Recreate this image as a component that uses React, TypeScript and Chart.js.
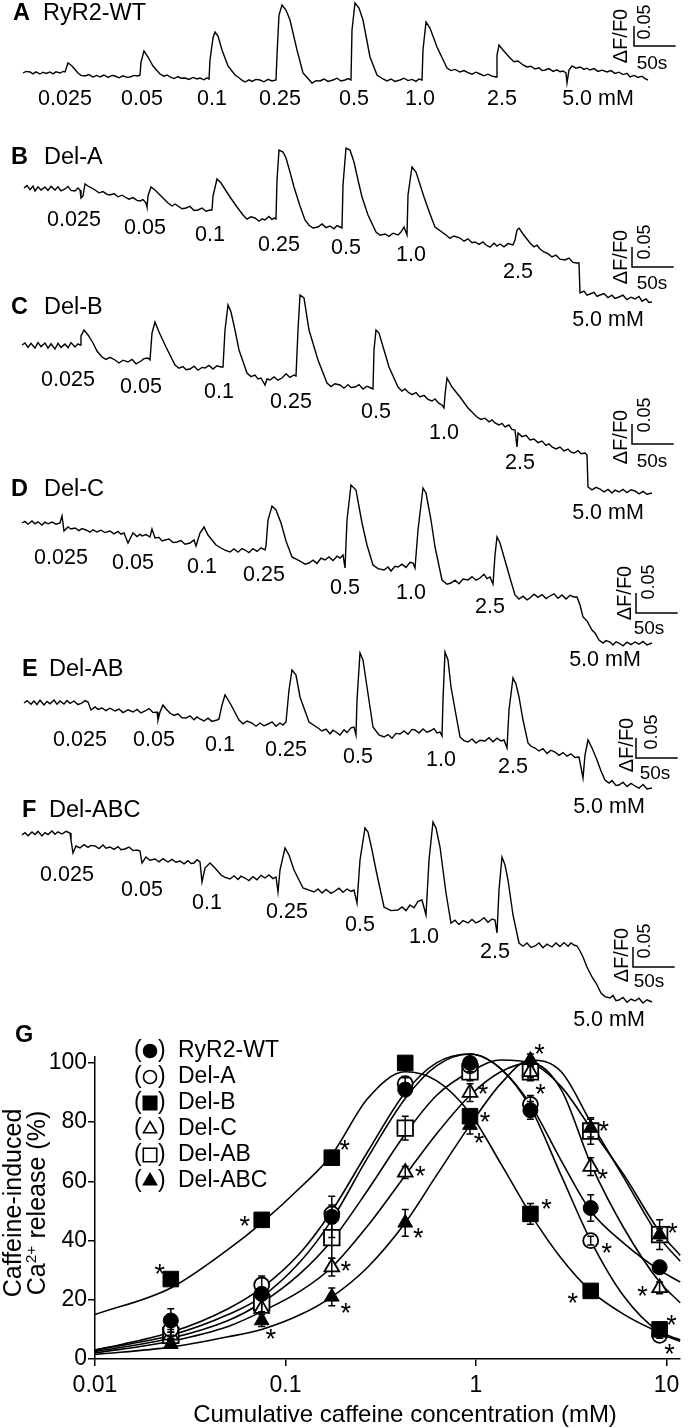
import React, { useEffect, useRef } from "react";
import { Chart, registerables } from "chart.js";
import { drawPoint } from "chart.js/helpers";

Chart.register(...registerables);

const FONT = '"Liberation Sans", Arial, Helvetica, sans-serif';

// ---------- Panels A–F: fluorescence traces ----------
const FRAME_S = 1.2; // seconds per recorded frame
const SCALE_BAR_S = 50;
const SCALE_BAR_DF = 0.05;
const CONC_LABELS = ["0.025", "0.05", "0.1", "0.25", "0.5", "1.0", "2.5", "5.0 mM"];

// [frame, ΔF/F0]
const TRACE_A = [
  [0, 0], [3, 0.004], [7, 0.0025], [10, -0.002], [13, 0.003], [17, -0.0025], [20, 0.002], [23, -0.001], [27, 0.0025],
  [30, -0.002], [33, 0.003], [37, 0], [40, 0.004], [42, 0.0025], [45, 0.025], [49, 0.0175], [55, 0], [58, -0.006],
  [62, -0.0075], [66, -0.004], [70, -0.01], [74, -0.006], [77, -0.01], [81, -0.005], [85, -0.011], [89, -0.006],
  [92, -0.0075], [96, -0.012], [100, -0.007], [104, -0.011], [107, -0.01], [111, -0.006], [115, -0.0075], [117, -0.005],
  [118, 0.0275], [121, 0.055], [125, 0.04], [130, 0.0175], [137, -0.0025], [141, -0.008], [144, -0.005], [147, -0.01],
  [151, -0.014], [155, -0.009], [158, -0.013], [162, -0.0125], [166, -0.016], [170, -0.011], [174, -0.015], [177, -0.0125],
  [181, -0.017], [184, -0.012], [186, -0.015], [187, 0.0325], [190, 0.0875], [192, 0.1025], [195, 0.0925], [199, 0.0575],
  [205, 0.0175], [212, -0.005], [216, -0.012], [219, -0.018], [222, -0.0225], [226, -0.017], [229, -0.021], [233, -0.016],
  [237, -0.0175], [241, -0.022], [245, -0.016], [249, -0.02], [253, -0.0175], [254, 0.045], [256, 0.145], [259, 0.17],
  [263, 0.1575], [267, 0.1325], [274, 0.0575], [280, 0], [289, -0.025], [293, -0.019], [297, -0.02], [301, -0.015],
  [305, -0.021], [310, -0.0175], [314, -0.013], [318, -0.02], [322, -0.0175], [325, -0.014], [328, -0.0175], [329, 0.1075],
  [332, 0.175], [336, 0.1625], [340, 0.1325], [347, 0.04], [354, -0.005], [360, -0.015], [364, -0.02], [368, -0.015],
  [372, -0.021], [377, -0.0175], [381, -0.013], [385, -0.019], [389, -0.016], [393, -0.021], [396, -0.015], [399, -0.0175],
  [400, 0.0575], [403, 0.1275], [407, 0.1125], [414, 0.065], [424, 0.0125], [428, 0.006], [432, 0.009], [437, 0.0025],
  [441, 0.006], [445, 0.001], [449, -0.003], [453, 0.002], [457, -0.0025], [461, -0.007], [465, -0.003], [469, -0.008],
  [473, -0.01], [474, 0.045], [476, 0.07], [480, 0.0575], [487, 0.0375], [491, 0.028], [495, 0.03], [500, 0.02],
  [504, 0.015], [508, 0.017], [512, 0.01], [516, 0.013], [519, 0.006], [522, 0.0075], [526, 0.011], [530, 0.004],
  [534, 0.008], [537, 0.003], [540, 0.005], [543, 0], [544, -0.025], [546, 0.0075], [549, 0.0175], [553, 0.012],
  [557, 0.015], [561, 0.009], [564, 0.012], [567, 0.0075], [571, 0.011], [575, 0.004], [579, 0.007], [584, 0.0025],
  [588, 0.006], [592, -0.001], [596, 0.002], [600, -0.004], [604, -0.001], [607, -0.01], [611, -0.006], [615, -0.011],
  [619, -0.008], [622, -0.014], [625, -0.0175],
];
const TRACE_B = [
  [1, 0], [4, 0.006], [7, -0.004], [10, 0.005], [12, -0.0075], [15, 0.003], [18, -0.005], [22, 0.0025], [25, -0.006],
  [28, 0.004], [32, -0.005], [35, 0.003], [38, -0.007], [42, -0.0025], [45, 0.004], [48, -0.006], [52, -0.0075], [55, 0],
  [57, -0.005], [58, -0.025], [60, -0.02], [62, 0.01], [65, 0.005], [68, 0.001], [72, -0.005], [76, -0.012], [80, -0.009],
  [84, -0.016], [87, -0.0175], [91, -0.014], [95, -0.022], [99, -0.018], [102, -0.0225], [106, -0.028], [110, -0.024],
  [114, -0.031], [117, -0.0325], [120, -0.029], [123, -0.0375], [124, -0.0475], [125, -0.02], [128, 0.0025], [132, -0.005],
  [137, -0.0175], [145, -0.0375], [149, -0.045], [152, -0.04], [155, -0.045], [159, -0.052], [163, -0.05], [167, -0.046],
  [171, -0.056], [175, -0.055], [179, -0.05], [183, -0.058], [187, -0.055], [189, -0.055], [190, -0.02], [194, 0.0225],
  [198, 0.0125], [207, -0.0225], [214, -0.0475], [220, -0.0675], [224, -0.078], [228, -0.072], [232, -0.075], [236, -0.083],
  [239, -0.077], [242, -0.08], [246, -0.071], [249, -0.079], [251, -0.075], [253, -0.0775], [254, 0.02], [256, 0.095],
  [260, 0.09], [263, 0.075], [267, 0.04], [271, 0.0025], [277, -0.045], [282, -0.08], [286, -0.093], [290, -0.1],
  [295, -0.0975], [299, -0.09], [303, -0.099], [307, -0.095], [311, -0.102], [314, -0.094], [317, -0.0975], [319, -0.1],
  [320, 0.0075], [323, 0.1], [327, 0.095], [331, 0.065], [335, 0.02], [339, -0.0225], [345, -0.0675], [353, -0.11],
  [357, -0.118], [362, -0.115], [366, -0.121], [370, -0.113], [375, -0.1175], [378, -0.11], [381, -0.0975], [384, -0.1175],
  [385, -0.0175], [389, 0.0525], [393, 0.04], [401, -0.0225], [407, -0.065], [412, -0.0975], [423, -0.1175], [427, -0.126],
  [431, -0.12], [437, -0.125], [441, -0.133], [445, -0.127], [449, -0.137], [452, -0.135], [456, -0.141], [460, -0.135],
  [463, -0.1425], [467, -0.148], [471, -0.138], [474, -0.145], [477, -0.14], [481, -0.147], [485, -0.139], [490, -0.1425],
  [492, -0.13], [494, -0.105], [496, -0.1], [500, -0.115], [507, -0.1375], [511, -0.147], [514, -0.143], [517, -0.1525],
  [521, -0.16], [525, -0.164], [529, -0.1725], [533, -0.168], [537, -0.178], [542, -0.18], [546, -0.175], [550, -0.186],
  [554, -0.1875], [556, -0.1875], [557, -0.2625], [561, -0.258], [564, -0.268], [567, -0.265], [571, -0.261], [574, -0.271],
  [577, -0.2675], [581, -0.264], [585, -0.274], [589, -0.268], [592, -0.276], [596, -0.2725], [600, -0.268], [604, -0.279],
  [608, -0.273], [612, -0.2775], [616, -0.271], [619, -0.283], [623, -0.277], [626, -0.286], [629, -0.285],
];
const TRACE_C = [
  [-1, 0], [2, 0.005], [5, -0.006], [8, 0.004], [12, -0.0075], [15, 0.006], [18, -0.004], [22, 0.005], [25, -0.008],
  [28, 0.003], [32, -0.01], [35, 0.004], [38, -0.006], [42, 0.0025], [45, -0.007], [48, 0.006], [52, -0.005], [55, 0.003],
  [57, 0], [58, 0.0225], [61, 0.0375], [65, 0.025], [70, 0.005], [74, -0.015], [79, -0.03], [83, -0.036], [87, -0.031],
  [92, -0.0375], [96, -0.045], [100, -0.038], [105, -0.0425], [109, -0.036], [113, -0.047], [118, -0.04], [121, -0.034],
  [125, -0.0325], [127, -0.0375], [129, 0.03], [132, 0.0575], [136, 0.0325], [143, -0.005], [152, -0.05], [156, -0.058],
  [160, -0.054], [163, -0.062], [167, -0.06], [171, -0.053], [175, -0.063], [179, -0.056], [182, -0.0575], [186, -0.051],
  [190, -0.06], [194, -0.052], [198, -0.055], [200, -0.055], [202, 0.0375], [205, 0.1], [208, 0.0825], [212, 0.0375],
  [216, -0.0125], [224, -0.07], [228, -0.079], [232, -0.075], [235, -0.085], [238, -0.0825], [242, -0.1], [244, -0.085],
  [247, -0.0875], [251, -0.08], [255, -0.088], [259, -0.0825], [263, -0.072], [267, -0.081], [271, -0.075], [273, -0.0775],
  [275, 0.0375], [277, 0.125], [281, 0.1175], [286, 0.0375], [295, -0.0375], [304, -0.095], [308, -0.104], [312, -0.097],
  [317, -0.1], [321, -0.108], [325, -0.099], [328, -0.106], [332, -0.105], [336, -0.099], [340, -0.11], [344, -0.103],
  [348, -0.1075], [350, -0.11], [351, -0.0125], [353, 0.0375], [356, 0.03], [361, -0.0125], [366, -0.055], [375, -0.105],
  [379, -0.115], [382, -0.11], [385, -0.1175], [389, -0.124], [393, -0.119], [397, -0.13], [401, -0.126], [405, -0.136],
  [409, -0.14], [412, -0.135], [416, -0.146], [419, -0.15], [421, -0.1575], [422, -0.125], [424, -0.0825], [429, -0.105],
  [437, -0.13], [445, -0.1575], [454, -0.18], [458, -0.186], [462, -0.183], [466, -0.192], [469, -0.187], [472, -0.195],
  [476, -0.2], [479, -0.196], [482, -0.205], [486, -0.2], [489, -0.211], [492, -0.2125], [494, -0.255], [495, -0.22],
  [499, -0.229], [503, -0.226], [507, -0.2375], [511, -0.235], [515, -0.244], [519, -0.24], [523, -0.251], [526, -0.247],
  [529, -0.255], [533, -0.26], [537, -0.255], [541, -0.265], [545, -0.26], [548, -0.268], [551, -0.27], [555, -0.264],
  [558, -0.272], [562, -0.27], [564, -0.275], [565, -0.355], [569, -0.362], [573, -0.356], [577, -0.36], [581, -0.367],
  [585, -0.361], [589, -0.37], [592, -0.363], [596, -0.3675], [600, -0.361], [604, -0.369], [608, -0.362], [612, -0.365],
  [616, -0.372], [620, -0.366], [624, -0.373], [629, -0.37],
];
const TRACE_D = [
  [-1, 0], [2, 0.004], [5, -0.003], [9, 0.005], [12, -0.002], [15, 0.003], [19, -0.005], [22, 0.002], [25, -0.002],
  [29, 0.0025], [33, -0.003], [37, 0], [39, 0.0175], [41, -0.02], [45, -0.01], [48, -0.015], [52, -0.0125], [56, -0.019],
  [59, -0.014], [63, -0.0175], [67, -0.023], [70, -0.017], [74, -0.0225], [78, -0.018], [82, -0.024], [87, -0.02],
  [91, -0.027], [95, -0.021], [98, -0.028], [101, -0.025], [105, -0.05], [110, -0.025], [114, -0.034], [117, -0.028],
  [119, -0.0325], [123, -0.029], [127, -0.035], [129, -0.015], [132, -0.0375], [136, -0.036], [139, -0.045], [142, -0.0425],
  [146, -0.04], [150, -0.049], [154, -0.0475], [158, -0.044], [162, -0.053], [167, -0.05], [171, -0.0425], [173, -0.0575],
  [177, -0.025], [181, -0.01], [185, -0.03], [189, -0.0425], [193, -0.055], [198, -0.0625], [202, -0.068], [207, -0.0725],
  [211, -0.065], [215, -0.073], [219, -0.064], [222, -0.0675], [226, -0.074], [230, -0.064], [234, -0.071], [238, -0.062],
  [242, -0.0675], [243, -0.0575], [245, 0.0075], [249, 0.0425], [253, 0.0325], [258, 0], [263, -0.045], [269, -0.085],
  [277, -0.095], [282, -0.103], [286, -0.1], [290, -0.093], [294, -0.101], [298, -0.088], [302, -0.0925], [306, -0.085],
  [310, -0.094], [314, -0.083], [317, -0.0875], [320, -0.08], [322, -0.1125], [324, 0.0075], [328, 0.095], [333, 0.0825],
  [339, 0], [344, -0.055], [350, -0.105], [355, -0.114], [361, -0.1175], [365, -0.11], [368, -0.12], [372, -0.108],
  [375, -0.11], [379, -0.103], [383, -0.111], [387, -0.098], [390, -0.1], [392, -0.1125], [395, -0.0175], [400, 0.0875],
  [403, 0.075], [408, 0.0075], [412, -0.06], [419, -0.1425], [424, -0.153], [428, -0.15], [432, -0.143], [436, -0.152],
  [440, -0.14], [445, -0.1425], [449, -0.134], [453, -0.143], [457, -0.1375], [461, -0.128], [464, -0.139], [467, -0.135],
  [470, -0.1525], [472, -0.08], [474, -0.035], [477, -0.05], [481, -0.085], [487, -0.1375], [492, -0.18], [496, -0.19],
  [500, -0.183], [504, -0.192], [507, -0.1875], [511, -0.178], [515, -0.186], [519, -0.179], [523, -0.189], [527, -0.1825],
  [531, -0.177], [535, -0.188], [539, -0.18], [543, -0.19], [547, -0.181], [551, -0.185], [554, -0.185], [557, -0.205],
  [560, -0.235], [564, -0.245], [569, -0.2675], [572, -0.275], [576, -0.2925], [580, -0.3], [583, -0.294], [587, -0.2975],
  [590, -0.305], [593, -0.297], [596, -0.3], [600, -0.307], [604, -0.298], [608, -0.304], [612, -0.2975], [616, -0.303],
  [620, -0.296], [624, -0.305], [629, -0.3],
];
const TRACE_E = [
  [1, 0], [4, 0.006], [8, -0.003], [11, 0.005], [14, -0.004], [17, 0.007], [21, -0.005], [24, 0.004], [27, -0.002],
  [31, 0.0075], [34, -0.003], [37, 0.005], [41, -0.0025], [44, 0.006], [47, -0.001], [51, 0.005], [55, -0.004], [59, 0],
  [62, 0.006], [65, 0.0025], [68, -0.0175], [72, -0.01], [75, -0.016], [79, -0.0125], [83, -0.019], [87, -0.013],
  [92, -0.02], [96, -0.015], [100, -0.024], [105, -0.017], [110, -0.0225], [114, -0.016], [118, -0.025], [122, -0.02],
  [126, -0.014], [130, -0.024], [134, -0.0225], [135, -0.0425], [137, -0.0225], [140, -0.005], [143, -0.015], [147, -0.025],
  [151, -0.031], [155, -0.027], [159, -0.037], [163, -0.0375], [167, -0.032], [171, -0.042], [174, -0.035], [177, -0.04],
  [181, -0.045], [185, -0.038], [189, -0.046], [194, -0.0425], [196, -0.04], [199, -0.005], [202, 0.02], [207, 0],
  [216, -0.0425], [220, -0.052], [224, -0.045], [229, -0.05], [233, -0.058], [237, -0.05], [241, -0.057], [245, -0.0525],
  [249, -0.047], [253, -0.058], [257, -0.05], [260, -0.055], [263, -0.0475], [266, 0.0325], [269, 0.0825], [273, 0.07],
  [277, 0.015], [286, -0.0475], [295, -0.0625], [299, -0.07], [303, -0.065], [307, -0.077], [310, -0.068], [313, -0.0725],
  [317, -0.08], [321, -0.067], [324, -0.074], [328, -0.062], [331, -0.06], [333, -0.08], [334, 0.0075], [337, 0.125],
  [340, 0.1075], [344, 0.04], [350, -0.06], [356, -0.08], [361, -0.085], [365, -0.079], [369, -0.088], [373, -0.076],
  [377, -0.0775], [381, -0.07], [385, -0.078], [389, -0.066], [392, -0.0675], [396, -0.075], [400, -0.065], [404, -0.073],
  [407, -0.07], [411, -0.064], [414, -0.075], [417, -0.0725], [419, -0.0825], [420, 0.0075], [422, 0.1275], [425, 0.1075],
  [428, 0.04], [433, -0.03], [437, -0.085], [441, -0.094], [445, -0.0975], [449, -0.09], [453, -0.1], [457, -0.093],
  [462, -0.095], [466, -0.087], [470, -0.097], [474, -0.088], [478, -0.095], [481, -0.0925], [484, -0.1125], [486, -0.0175],
  [490, 0.0625], [493, 0.0475], [496, 0.015], [500, -0.0425], [505, -0.1], [508, -0.108], [512, -0.1125], [516, -0.12],
  [520, -0.114], [524, -0.126], [528, -0.118], [532, -0.1225], [536, -0.131], [540, -0.124], [544, -0.133], [548, -0.127],
  [552, -0.136], [556, -0.135], [560, -0.1875], [562, -0.13], [565, -0.0925], [569, -0.1125], [574, -0.1425], [578, -0.17],
  [582, -0.1925], [586, -0.2], [589, -0.194], [593, -0.206], [596, -0.205], [600, -0.198], [604, -0.209], [608, -0.201],
  [612, -0.2075], [616, -0.213], [620, -0.204], [624, -0.215], [629, -0.2125],
];
const TRACE_F = [
  [-1, 0], [2, 0.006], [5, -0.002], [9, 0.0075], [12, 0.001], [15, 0.009], [19, -0.0025], [22, 0.006], [25, 0.001],
  [29, 0.01], [32, 0.002], [35, 0.008], [39, 0.0025], [43, 0.009], [47, 0.005], [48, -0.0125], [50, -0.045], [53, -0.0275],
  [57, -0.0325], [61, -0.024], [65, -0.031], [68, -0.026], [72, -0.0275], [76, -0.034], [80, -0.025], [83, -0.033],
  [87, -0.03], [91, -0.036], [95, -0.029], [98, -0.037], [102, -0.035], [106, -0.03], [110, -0.039], [114, -0.0375],
  [117, -0.04], [119, -0.07], [123, -0.055], [127, -0.063], [132, -0.06], [136, -0.067], [140, -0.059], [145, -0.0675],
  [149, -0.061], [153, -0.068], [157, -0.065], [161, -0.072], [165, -0.064], [168, -0.071], [171, -0.07], [174, -0.062],
  [177, -0.0675], [179, -0.1175], [182, -0.0825], [187, -0.07], [192, -0.0825], [198, -0.1], [202, -0.106], [207, -0.11],
  [211, -0.102], [215, -0.111], [218, -0.103], [222, -0.1075], [226, -0.114], [230, -0.104], [234, -0.112], [238, -0.101],
  [242, -0.1075], [246, -0.1], [250, -0.109], [253, -0.105], [255, -0.1425], [257, -0.0875], [262, -0.0325], [266, -0.05],
  [271, -0.0875], [280, -0.1325], [286, -0.138], [291, -0.1425], [295, -0.135], [299, -0.145], [303, -0.136], [308, -0.146],
  [312, -0.14], [316, -0.133], [320, -0.143], [324, -0.135], [328, -0.141], [331, -0.1375], [334, -0.17], [337, -0.0625],
  [342, 0.0175], [345, 0.0075], [349, -0.0375], [353, -0.0875], [361, -0.18], [368, -0.189], [375, -0.1875], [379, -0.18],
  [383, -0.189], [387, -0.175], [391, -0.182], [395, -0.166], [399, -0.1625], [403, -0.2], [406, -0.0625], [410, 0.0325],
  [413, 0.0175], [417, -0.03], [423, -0.145], [428, -0.22], [432, -0.213], [436, -0.224], [440, -0.214], [445, -0.22],
  [449, -0.211], [453, -0.22], [457, -0.215], [461, -0.207], [465, -0.218], [469, -0.21], [472, -0.2125], [474, -0.245],
  [476, -0.1375], [479, -0.055], [482, -0.075], [485, -0.1125], [490, -0.2], [496, -0.27], [500, -0.278], [504, -0.27],
  [508, -0.281], [512, -0.2775], [516, -0.27], [520, -0.282], [524, -0.273], [529, -0.28], [533, -0.27], [537, -0.279],
  [541, -0.269], [545, -0.278], [548, -0.27], [551, -0.275], [554, -0.2775], [557, -0.29], [560, -0.305], [564, -0.33],
  [569, -0.355], [573, -0.37], [578, -0.395], [582, -0.404], [587, -0.4075], [590, -0.401], [593, -0.414], [596, -0.4125],
  [600, -0.406], [604, -0.418], [608, -0.41], [612, -0.415], [616, -0.408], [620, -0.42], [624, -0.412], [629, -0.4175],
];

const TRACE_X_MIN = -27.6;
const TRACE_X_MAX = 804;

const PANELS = [
  { letter: "A", name: "RyR2-WT", trace: TRACE_A, top: 0, height: 95, yMin: -0.055, yMax: 0.1825,
    letterX: 13, nameX: 43, titleY: 13,
    labels: [[65, 99], [142, 99], [212, 99], [280, 99], [354, 99], [420, 99], [502, 99], [598, 99]],
    barS: 733.2, barV: 0.0675, dfText: [620, 36], numText: [644, 22], sText: [652, 62] },
  { letter: "B", name: "Del-A", trace: TRACE_B, top: 140, height: 170, yMin: -0.305, yMax: 0.12,
    letterX: 11, nameX: 44, titleY: 157,
    labels: [[74, 220], [145, 228], [210, 235], [279, 245], [346, 248], [411, 255], [518, 272], [608, 320]],
    barS: 730.8, barV: -0.1975, dfText: [620, 257], numText: [644, 242], sText: [652, 282] },
  { letter: "C", name: "Del-B", trace: TRACE_C, top: 285, height: 215, yMin: -0.3875, yMax: 0.15,
    letterX: 11, nameX: 44, titleY: 307,
    labels: [[68, 380], [141, 387], [219, 392], [291, 402], [376, 412], [444, 433], [520, 463], [608, 513]],
    barS: 730.8, barV: -0.2475, dfText: [620, 437], numText: [644, 415], sText: [652, 460] },
  { letter: "D", name: "Del-C", trace: TRACE_D, top: 475, height: 180, yMin: -0.33, yMax: 0.12,
    letterX: 11, nameX: 44, titleY: 489,
    labels: [[61, 558], [133, 563], [202, 567], [264, 575], [345, 588], [411, 593], [490, 607], [605, 660]],
    barS: 735.6, barV: -0.225, dfText: [624, 593], numText: [648, 582], sText: [649, 627] },
  { letter: "E", name: "Del-AB", trace: TRACE_E, top: 645, height: 155, yMin: -0.2425, yMax: 0.145,
    letterX: 22, nameX: 49, titleY: 669,
    labels: [[80, 740], [154, 740], [220, 745], [286, 750], [358, 757], [441, 760], [513, 767], [609, 807]],
    barS: 735.6, barV: -0.1375, dfText: [626, 745], numText: [651, 732], sText: [655, 772] },
  { letter: "F", name: "Del-ABC", trace: TRACE_F, top: 800, height: 210, yMin: -0.4375, yMax: 0.0875,
    letterX: 22, nameX: 49, titleY: 810,
    labels: [[67, 875], [142, 890], [207, 903], [287, 912], [360, 925], [424, 937], [495, 952], [609, 1020]],
    barS: 732, barV: -0.33, dfText: [621, 955], numText: [644, 941], sText: [649, 980] },
];

// ---------- Panel G: concentration–response ----------
const CONC = [0.025, 0.075, 0.175, 0.425, 0.93, 1.93, 4.0, 9.2];
const WT = [13, 22, 48, 91, 100, 84, 51, 31];
const WT_ERR = [4, 2, 7, 2, 1, 3, 4.5, 2];
const DEL_A = [10, 25, 49, 93, 99, 86, 40, 8];
const DEL_A_ERR = [2, 3, 3, 2, 2, 3, 1.5, 1];
const DEL_B = [27, 47, 68, 100, 82, 49, 23, 10];
const DEL_B_ERR = [1, 1, 1, 1, 2, 3.5, 1, 1];
const DEL_C = [8, 17, 31, 63, 90, 97, 65, 24];
const DEL_C_ERR = [1, 3, 3, 2, 3, 2, 3, 2];
const DEL_AB = [8, 19, 41, 78, 97, 97, 77, 42];
const DEL_AB_ERR = [2, 3, 7, 4, 3, 3, 4.5, 5];
const DEL_ABC = [5, 13, 21, 46, 79, 101, 78, 42];
const DEL_ABC_ERR = [1, 2, 3, 4.5, 3, 2, 3, 2];

// fitted curves
const FIT_X = [0.01, 0.025, 0.05, 0.075, 0.12, 0.175, 0.27, 0.425, 0.62, 0.93, 1.35, 1.93, 2.8, 4.0, 6.0, 9.2, 11.8];
const FIT_WT = [3, 8, 15, 21, 33, 47, 68, 88, 99, 103, 98, 86, 67, 50, 39, 30, 26];
const FIT_A = [3, 9, 17, 24, 36, 50, 70, 90, 100, 103, 98, 85, 62, 40, 21, 9, 6];
const FIT_B = [15, 24, 37, 46, 58, 69, 88, 97, 94, 83, 66, 49, 34, 23, 15, 9, 6.5];
const FIT_C = [2, 6, 11, 16, 23, 31, 45, 62, 76, 89, 97, 100, 91, 66, 44, 26, 19];
const FIT_AB = [2.5, 7, 13, 19, 29, 40, 57, 76, 89, 97, 101, 100, 92, 78, 62, 43, 35];
const FIT_ABC = [1.5, 4, 7.5, 10, 15, 21, 31, 46, 62, 79, 93, 101, 97, 80, 61, 41, 33];

const X_TICKS = [0.01, 0.1, 1, 10];
const X_TICK_LABELS = ["0.01", "0.1", "1", "10"];
const Y_TICKS = [0, 10, 20, 30, 40, 50, 60, 70, 80, 90, 100];
const Y_LABELLED = [0, 20, 40, 60, 80, 100];

const SERIES = [
  { name: "RyR2-WT", y: WT, err: WT_ERR, fit: FIT_WT, style: "circle", filled: true, r: 7.5, lr: 6.5 },
  { name: "Del-A", y: DEL_A, err: DEL_A_ERR, fit: FIT_A, style: "circle", filled: false, r: 7.5, lr: 6.5 },
  { name: "Del-B", y: DEL_B, err: DEL_B_ERR, fit: FIT_B, style: "rect", filled: true, r: 11, lr: 9.5 },
  { name: "Del-C", y: DEL_C, err: DEL_C_ERR, fit: FIT_C, style: "triangle", filled: false, r: 8.5, lr: 7.5 },
  { name: "Del-AB", y: DEL_AB, err: DEL_AB_ERR, fit: FIT_AB, style: "rect", filled: false, r: 11, lr: 9.5 },
  { name: "Del-ABC", y: DEL_ABC, err: DEL_ABC_ERR, fit: FIT_ABC, style: "triangle", filled: true, r: 8.5, lr: 7.5 },
];

// significance marks: [series, point, dx, dy]
const STARS = [
  [2, 0, -11, -11], [2, 1, -17, 0], [2, 2, 13, -14], [2, 4, 15, 0], [2, 5, 16, -11], [2, 6, -18, 6], [2, 7, 12, -10],
  [1, 6, 16, 6], [1, 7, 10, 13],
  [3, 2, 14, -2], [3, 3, 15, -2], [3, 4, 13, -5], [3, 5, 10, 16], [3, 6, 12, 6], [3, 7, -17, 2],
  [4, 6, 13, -6], [4, 7, 13, -8],
  [5, 1, 9, 12], [5, 2, 14, 10], [5, 3, 13, 9], [5, 4, 9, 12], [5, 5, 9, -12],
];

const G_TOP = 1000;
const G_HEIGHT = 428;

function Txt({ x, y, children, size = 22, bold = false, align = "center", rotate = false }) {
  const tx = align === "left" ? "0" : "-50%";
  return (
    <div
      style={{
        position: "absolute",
        left: x,
        top: y,
        transform: `translate(${tx},-50%)${rotate ? " rotate(-90deg)" : ""}`,
        fontFamily: FONT,
        fontSize: size,
        fontWeight: bold ? 700 : 400,
        lineHeight: 1,
        whiteSpace: "nowrap",
        color: "#000",
      }}
    >
      {children}
    </div>
  );
}

function TracePanel({ p }) {
  const ref = useRef(null);
  useEffect(() => {
    const chart = new Chart(ref.current, {
      type: "line",
      data: {
        datasets: [
          {
            data: p.trace.map(([f, v]) => ({ x: f * FRAME_S, y: v })),
            borderColor: "#000",
            borderWidth: 1.4,
            pointRadius: 0,
            tension: 0,
          },
          {
            data: [
              { x: p.barS, y: p.barV + SCALE_BAR_DF },
              { x: p.barS, y: p.barV },
              { x: p.barS + SCALE_BAR_S, y: p.barV },
            ],
            borderColor: "#000",
            borderWidth: 1.5,
            pointRadius: 0,
            tension: 0,
          },
        ],
      },
      options: {
        animation: false,
        responsive: false,
        maintainAspectRatio: false,
        events: [],
        layout: { padding: 0 },
        plugins: { legend: { display: false }, tooltip: { enabled: false } },
        scales: {
          x: { type: "linear", display: false, min: TRACE_X_MIN, max: TRACE_X_MAX },
          y: { type: "linear", display: false, min: p.yMin, max: p.yMax },
        },
      },
    });
    return () => chart.destroy();
  }, [p]);
  return (
    <>
      <canvas
        ref={ref}
        width={693}
        height={p.height}
        style={{ position: "absolute", left: 0, top: p.top, width: 693, height: p.height }}
      />
      <Txt x={p.letterX} y={p.titleY} size={23.5} bold align="left">{p.letter}</Txt>
      <Txt x={p.nameX} y={p.titleY} size={23.5} align="left">{p.name}</Txt>
      {CONC_LABELS.map((t, i) => (
        <Txt key={i} x={p.labels[i][0]} y={p.labels[i][1]} size={21.5}>{t}</Txt>
      ))}
      <Txt x={p.dfText[0]} y={p.dfText[1]} size={20} rotate>ΔF/F0</Txt>
      <Txt x={p.numText[0]} y={p.numText[1]} size={18} rotate>0.05</Txt>
      <Txt x={p.sText[0]} y={p.sText[1]} size={19}>50s</Txt>
    </>
  );
}

const gExtras = {
  id: "gExtras",
  afterDatasetsDraw(chart) {
    const ctx = chart.ctx;
    const xs = chart.scales.x;
    const ys = chart.scales.y;
    ctx.save();
    ctx.strokeStyle = "#000";
    ctx.lineWidth = 1.5;
    SERIES.forEach((s) => {
      s.y.forEach((v, i) => {
        const e = s.err[i];
        const px = xs.getPixelForValue(CONC[i]);
        const t = ys.getPixelForValue(v + e);
        const b = ys.getPixelForValue(v - e);
        ctx.beginPath();
        ctx.moveTo(px, t);
        ctx.lineTo(px, b);
        ctx.moveTo(px - 3.5, t);
        ctx.lineTo(px + 3.5, t);
        ctx.moveTo(px - 3.5, b);
        ctx.lineTo(px + 3.5, b);
        ctx.stroke();
      });
    });
    ctx.fillStyle = "#000";
    ctx.font = `27px ${FONT}`;
    ctx.textAlign = "center";
    ctx.textBaseline = "alphabetic";
    STARS.forEach(([si, i, dx, dy]) => {
      const s = SERIES[si];
      const px = xs.getPixelForValue(CONC[i]);
      const py = ys.getPixelForValue(s.y[i]);
      ctx.fillText("*", px + dx, py + dy + 15);
    });
    // legend
    ctx.font = `23px ${FONT}`;
    ctx.textAlign = "left";
    ctx.textBaseline = "middle";
    SERIES.forEach((s, i) => {
      const y = 50 + i * 26;
      ctx.fillStyle = "#000";
      ctx.fillText("(", 134, y + 1);
      ctx.fillText(")", 158, y + 1);
      ctx.fillText(s.name, 178, y + 1);
      ctx.fillStyle = s.filled ? "#000" : "#fff";
      ctx.strokeStyle = "#000";
      ctx.lineWidth = 1.6;
      drawPoint(ctx, { pointStyle: s.style, radius: s.lr, rotation: 0, borderWidth: 1.6 }, 150, y + 1);
    });
    ctx.restore();
  },
};

function PanelG() {
  const ref = useRef(null);
  useEffect(() => {
    const curves = SERIES.map((s) => ({
      type: "line",
      data: FIT_X.map((x, i) => ({ x, y: s.fit[i] })),
      borderColor: "#000",
      borderWidth: 1.6,
      pointRadius: 0,
      cubicInterpolationMode: "monotone",
      fill: false,
      order: 10,
      clip: false,
    }));
    const points = SERIES.map((s) => ({
      type: "line",
      showLine: false,
      data: CONC.map((x, i) => ({ x, y: s.y[i] })),
      pointStyle: s.style,
      pointRadius: s.r,
      pointBackgroundColor: s.filled ? "#000" : "#fff",
      pointBorderColor: "#000",
      pointBorderWidth: s.filled ? 1 : 1.8,
      order: s.filled ? 1 : 5,
      clip: false,
    }));
    const chart = new Chart(ref.current, {
      type: "line",
      data: { datasets: [...curves, ...points] },
      options: {
        animation: false,
        responsive: false,
        maintainAspectRatio: false,
        events: [],
        layout: { padding: { left: 0, top: 57, right: 5, bottom: 0 } },
        plugins: { legend: { display: false }, tooltip: { enabled: false } },
        scales: {
          x: {
            type: "logarithmic",
            min: 0.01,
            max: 11.8,
            afterBuildTicks: (axis) => {
              axis.ticks = X_TICKS.map((v) => ({ value: v }));
            },
            afterFit: (axis) => {
              axis.height = 69;
            },
            ticks: {
              autoSkip: false,
              maxRotation: 0,
              padding: 6,
              color: "#000",
              font: { family: FONT, size: 23 },
              callback: (v) => {
                const k = X_TICKS.indexOf(Number(v));
                return k >= 0 ? X_TICK_LABELS[k] : "";
              },
            },
            grid: { display: true, drawOnChartArea: false, drawTicks: true, tickLength: 7, color: "#000", lineWidth: 1.5 },
            border: { display: true, color: "#000", width: 1.5 },
          },
          y: {
            type: "linear",
            min: 0,
            max: 102,
            afterBuildTicks: (axis) => {
              axis.ticks = Y_TICKS.map((v) => ({ value: v }));
            },
            afterFit: (axis) => {
              axis.width = 95;
            },
            ticks: {
              padding: 1,
              color: "#000",
              font: { family: FONT, size: 23 },
              callback: (v) => (Y_LABELLED.includes(Number(v)) ? String(v) : ""),
            },
            grid: { display: true, drawOnChartArea: false, drawTicks: true, tickLength: 7, color: "#000", lineWidth: 1.5 },
            border: { display: true, color: "#000", width: 1.5 },
          },
        },
      },
      plugins: [gExtras],
    });
    return () => chart.destroy();
  }, []);
  return (
    <>
      <canvas
        ref={ref}
        width={693}
        height={G_HEIGHT}
        style={{ position: "absolute", left: 0, top: G_TOP, width: 693, height: G_HEIGHT }}
      />
      <Txt x={15} y={1035} size={23.5} bold align="left">G</Txt>
      <div
        style={{
          position: "absolute",
          left: 24,
          top: 1203,
          transform: "translate(-50%,-50%) rotate(-90deg)",
          fontFamily: FONT,
          fontSize: 25,
          lineHeight: "24px",
          textAlign: "center",
          whiteSpace: "nowrap",
          color: "#000",
        }}
      >
        Caffeine-induced
        <br />
        Ca<sup style={{ fontSize: "0.62em", lineHeight: 0 }}>2+</sup> release (%)
      </div>
      <Txt x={405} y={1414} size={24}>Cumulative caffeine concentration (mM)</Txt>
    </>
  );
}

export default function App() {
  return (
    <div
      style={{
        position: "absolute",
        left: 0,
        top: 0,
        width: 693,
        height: 1428,
        background: "#fff",
        overflow: "hidden",
      }}
    >
      {PANELS.map((p) => (
        <TracePanel key={p.letter} p={p} />
      ))}
      <PanelG />
    </div>
  );
}
